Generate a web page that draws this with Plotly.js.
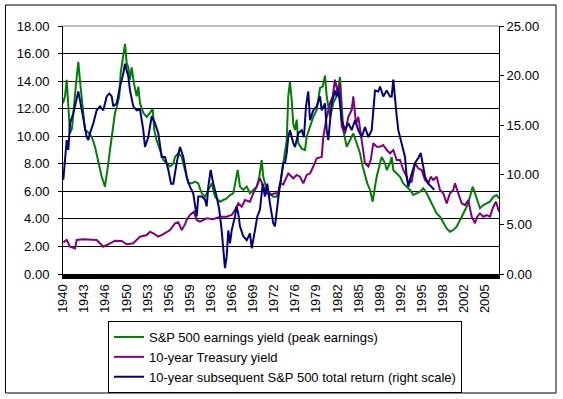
<!DOCTYPE html>
<html>
<head>
<meta charset="utf-8">
<script src="https://cdn.plot.ly/plotly-3.0.1.min.js"></script>
<style>html,body{margin:0;padding:0;background:#fff;}#chart{width:563px;height:399px;}</style>
</head>
<body>
<div id="chart"></div>
<script>
// Tick labels on the x axis (evenly spaced category-style labels)
const xTickLabels = ["1940","1943","1946","1950","1953","1956","1959","1963","1966","1969","1972","1976","1979","1982","1985","1989","1992","1995","1998","2002","2005"];

// S&P 500 earnings yield (peak earnings), left scale
const earnYears = [1940.0,1940.31,1940.57,1940.82,1941.08,1941.39,1941.59,1941.85,1942.11,1942.36,1942.62,1942.88,1943.13,1943.39,1943.65,1944.16,1944.42,1944.93,1945.44,1945.96,1946.47,1946.73,1946.98,1947.24,1947.5,1947.75,1948.01,1948.27,1948.67,1948.89,1949.2,1949.55,1949.81,1950.06,1950.32,1950.58,1950.94,1951.35,1951.6,1951.86,1952.37,1952.89,1953.4,1953.81,1954.06,1954.43,1954.94,1955.45,1955.97,1956.48,1956.99,1957.25,1957.76,1958.28,1958.79,1959.3,1959.82,1960.33,1960.84,1961.36,1961.87,1962.38,1962.9,1963.41,1964.18,1964.69,1965.21,1965.72,1966.23,1966.91,1967.26,1967.77,1968.3,1968.8,1969.31,1969.84,1970.24,1970.61,1970.85,1971.38,1971.88,1972.39,1972.92,1973.42,1973.93,1974.46,1974.7,1974.96,1975.23,1975.47,1975.74,1976.0,1976.24,1976.77,1977.28,1977.54,1978.05,1978.55,1979.08,1979.59,1980.0,1980.36,1980.62,1981.13,1981.63,1982.16,1982.67,1982.93,1983.17,1983.7,1984.21,1984.72,1985.24,1985.75,1986.16,1986.52,1986.87,1987.29,1987.7,1988.06,1988.32,1988.83,1989.09,1989.6,1989.86,1990.37,1990.63,1990.88,1991.4,1991.91,1992.42,1992.94,1993.45,1993.96,1994.48,1994.99,1995.5,1996.02,1996.53,1997.04,1997.56,1998.07,1998.58,1999.1,1999.61,2000.12,2000.64,2001.15,2001.66,2002.18,2002.69,2003.1,2003.46,2003.81,2004.23,2004.74,2005.26,2005.77,2006.28,2006.8,2007.16];
const earnYield = [12.4,12.9,14.1,12.0,10.2,10.6,11.9,13.0,14.3,15.4,14.0,12.8,11.9,10.45,10.4,10.1,9.97,9.24,8.27,7.06,6.34,7.06,8.03,9.0,9.97,10.9,11.7,12.1,12.9,14.6,15.5,16.7,15.3,15.0,14.1,15.0,13.8,12.9,13.6,12.4,11.7,11.4,11.7,12.0,10.45,9.7,9.0,8.27,8.03,7.8,8.0,8.5,8.76,8.5,7.55,6.58,6.58,6.7,6.58,5.86,5.6,6.1,6.58,5.6,5.25,5.37,5.49,5.73,5.86,7.55,6.34,6.1,6.34,5.86,6.1,6.34,7.06,8.27,7.06,6.1,5.86,5.6,5.6,6.34,8.03,9.7,12.9,13.96,12.6,10.9,10.45,11.2,9.5,9.1,9.0,9.97,10.7,11.4,11.9,13.5,13.6,14.4,12.9,11.4,12.4,12.9,14.3,12.1,10.45,9.24,9.7,10.2,9.5,8.76,7.8,7.06,6.58,6.1,5.25,6.34,7.06,8.03,8.5,8.03,7.55,8.03,8.5,7.55,7.3,7.06,6.58,6.34,6.1,5.73,5.86,5.97,6.22,5.86,5.37,4.88,4.4,4.16,3.68,3.31,3.07,3.19,3.43,3.92,4.4,4.88,5.6,6.34,5.86,5.37,4.77,5.0,5.13,5.25,5.6,5.73,5.49];

// 10-year Treasury yield, left scale
const tsyYears = [1940.05,1940.57,1941.08,1941.85,1942.11,1943.13,1945.19,1946.21,1947.24,1948.01,1949.04,1949.81,1950.83,1951.86,1952.89,1953.4,1953.91,1954.68,1955.45,1956.48,1957.25,1957.76,1958.28,1958.79,1959.05,1959.56,1960.18,1960.59,1961.1,1962.13,1963.15,1964.18,1965.21,1965.98,1966.49,1967.0,1967.53,1968.03,1968.8,1969.31,1969.84,1970.34,1970.85,1971.38,1971.88,1972.65,1973.16,1973.42,1973.93,1974.7,1975.47,1976.0,1976.51,1977.02,1977.54,1978.05,1978.55,1979.08,1979.85,1980.1,1980.62,1981.13,1981.54,1981.9,1982.25,1982.67,1982.93,1983.44,1983.95,1984.47,1984.72,1985.13,1985.49,1986.01,1986.52,1987.03,1987.4,1987.8,1988.32,1988.83,1989.34,1989.86,1990.37,1990.88,1991.4,1991.91,1992.42,1992.94,1993.19,1993.71,1994.22,1994.73,1995.25,1995.76,1996.27,1996.64,1997.04,1997.56,1998.07,1998.58,1999.1,1999.61,2000.12,2000.38,2000.89,2001.41,2001.92,2002.43,2002.95,2003.46,2003.81,2004.23,2004.74,2005.26,2005.77,2006.28,2006.7,2007.16];
const tsyYield = [2.3,2.47,1.98,1.86,2.47,2.52,2.47,1.98,2.23,2.42,2.4,2.16,2.23,2.71,2.83,3.07,2.95,2.71,2.9,3.19,3.68,3.75,3.19,3.6,3.92,4.28,4.52,3.92,3.8,4.04,3.97,4.16,4.16,4.28,4.64,5.13,4.88,5.37,5.25,5.86,6.34,6.95,6.34,5.86,5.73,5.86,5.86,6.58,6.5,7.3,6.95,7.19,7.06,6.58,7.19,7.3,7.8,8.4,8.5,9.97,11.4,12.4,12.9,14.1,13.3,13.8,10.7,10.2,11.4,11.9,12.9,10.9,11.4,9.7,8.03,7.8,8.27,9.5,9.24,9.24,9.36,9.0,8.76,9.0,8.27,8.27,7.55,7.06,6.58,6.7,8.03,7.67,7.55,6.82,6.58,7.06,6.82,7.06,6.1,5.86,5.13,5.86,6.1,6.58,5.86,5.13,5.0,5.37,4.16,3.68,4.16,4.4,4.16,4.28,4.16,4.88,5.25,4.52];

// 10-year subsequent S&P 500 total return, right scale
const retYears = [1940.05,1940.31,1940.57,1940.82,1941.08,1941.59,1942.11,1942.36,1942.62,1943.13,1943.65,1943.9,1944.16,1944.67,1945.19,1945.7,1946.21,1946.73,1947.13,1947.5,1947.75,1948.27,1948.78,1949.29,1949.55,1950.06,1950.32,1950.83,1951.35,1951.86,1952.37,1952.63,1953.14,1953.66,1954.17,1954.68,1955.2,1955.71,1956.22,1956.64,1956.99,1957.51,1958.02,1958.53,1959.05,1959.56,1960.07,1960.59,1960.84,1961.36,1961.87,1962.13,1962.38,1962.75,1963.15,1963.67,1964.07,1964.44,1964.69,1964.95,1965.21,1965.46,1965.72,1965.98,1966.49,1966.75,1967.0,1967.26,1967.77,1968.3,1968.8,1969.07,1969.57,1969.93,1970.34,1970.76,1971.11,1971.47,1971.88,1972.39,1972.65,1972.92,1973.32,1973.69,1973.93,1974.2,1974.46,1974.7,1974.96,1975.47,1975.74,1976.24,1976.77,1977.12,1977.43,1977.78,1978.05,1978.55,1979.08,1979.59,1979.85,1980.36,1980.62,1980.86,1981.13,1981.39,1981.9,1982.16,1982.4,1982.67,1982.93,1983.44,1983.95,1984.47,1984.98,1985.49,1986.01,1986.52,1987.03,1987.55,1987.8,1988.06,1988.57,1988.83,1989.34,1989.86,1990.37,1990.63,1990.88,1991.14,1991.4,1991.65,1992.02,1992.32,1992.68,1992.94,1993.19,1993.45,1993.71,1994.22,1994.73,1995.1,1995.5,1995.76,1996.27,1996.79,1997.2];
const totalReturn = [9.5,11.8,13.5,12.5,15.2,16.2,17.5,18.4,17.5,15.5,13.8,13.5,14.2,15.2,16.5,16.9,16.5,17.9,18.2,17.9,16.9,17.2,18.9,20.2,21.2,19.9,18.5,16.9,16.5,16.6,14.5,12.8,13.8,15.9,15.2,14.2,11.8,11.8,10.5,9.1,9.1,11.2,12.8,11.8,9.8,8.8,8.1,5.8,7.8,7.8,7.5,6.8,8.8,10.5,9.1,7.8,6.5,4.4,2.75,0.6,1.75,4.4,3.1,4.4,5.8,6.8,6.1,4.8,3.8,3.4,4.1,2.6,4.4,5.8,6.5,9.1,7.8,9.1,7.1,5.1,4.8,6.5,8.5,10.1,11.2,11.2,12.2,13.8,14.5,13.2,12.8,14.2,14.5,13.8,16.9,18.4,15.5,16.5,16.9,17.9,16.5,17.2,14.5,13.5,15.9,17.2,18.5,17.9,18.7,17.2,15.5,14.5,15.2,14.5,15.5,14.5,13.8,14.8,13.8,14.5,16.5,18.5,18.4,18.9,17.9,18.5,17.9,17.9,19.6,17.5,15.9,14.5,13.5,12.8,11.8,9.8,8.8,9.5,10.1,11.2,11.7,12.2,10.8,9.8,9.1,8.8,8.5];

const seriesNames = ["S&P 500 earnings yield (peak earnings)", "10-year Treasury yield", "10-year subsequent S&P 500 total return (right scale)"];
const seriesColors = ["#008000", "#800080", "#000080"];

const xStart = 1940, labelStep = 3.25, xEnd = 2007.16;
const tickPositions = xTickLabels.map((_, i) => xStart + i * labelStep);

const traces = [
  {x: earnYears, y: earnYield, name: seriesNames[0], type: "scatter", mode: "lines", line: {color: seriesColors[0], width: 2}, yaxis: "y"},
  {x: tsyYears, y: tsyYield, name: seriesNames[1], type: "scatter", mode: "lines", line: {color: seriesColors[1], width: 2}, yaxis: "y"},
  {x: retYears, y: totalReturn, name: seriesNames[2], type: "scatter", mode: "lines", line: {color: seriesColors[2], width: 2}, yaxis: "y2"}
];

const font = {family: "Liberation Sans, Arial, sans-serif", size: 13, color: "#000"};

const layout = {
  width: 563, height: 399,
  margin: {l: 63, r: 64, t: 26, b: 125, autoexpand: false},
  paper_bgcolor: "#fff", plot_bgcolor: "#fff",
  font: font,
  showlegend: true,
  legend: {xref: "container", yref: "container", x: 0.1918, y: 0.1955, xanchor: "left", yanchor: "top",
           bordercolor: "#000", borderwidth: 1, bgcolor: "#fff", font: font, tracegroupgap: 0, itemwidth: 30},
  xaxis: {
    range: [xStart, xEnd], tickmode: "array", tickvals: tickPositions, ticktext: xTickLabels, automargin: false,
    tickangle: -90, showgrid: false, zeroline: false, showline: true, linecolor: "#000", linewidth: 5,
    ticks: "", tickfont: font, fixedrange: true
  },
  yaxis: {
    range: [0, 18], dtick: 2, tick0: 0, tickformat: ".2f", showgrid: true, gridcolor: "#000", gridwidth: 1, automargin: false,
    zeroline: false, showline: true, linecolor: "#000", linewidth: 1, ticks: "outside", ticklen: 4, tickcolor: "#000",
    tickfont: font, ticklabelstandoff: 6
  },
  yaxis2: {
    range: [0, 25], dtick: 5, tick0: 0, tickformat: ".2f", overlaying: "y", side: "right", showgrid: false, automargin: false,
    zeroline: false, showline: true, linecolor: "#000", linewidth: 1, ticks: "outside", ticklen: 4, tickcolor: "#000",
    tickfont: font
  },
  shapes: [
    {type: "line", xref: "paper", yref: "paper", x0: 0, x1: 1, y0: 1, y1: 1, line: {color: "#808080", width: 1}},
    {type: "rect", xref: "paper", yref: "paper", x0: -0.1319, x1: 1.1307, y0: -0.4798, y1: 1.0847, line: {color: "#000", width: 1}, fillcolor: "rgba(0,0,0,0)"}
  ]
};

Plotly.newPlot("chart", traces, layout, {displayModeBar: false, staticPlot: true});
</script>
</body>
</html>
